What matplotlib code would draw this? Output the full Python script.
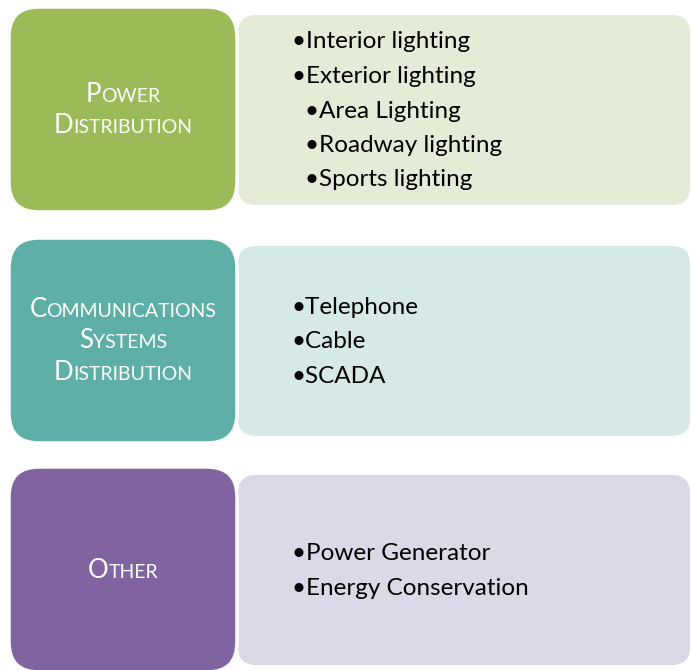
import matplotlib
matplotlib.use("Agg")
import matplotlib.pyplot as plt
from matplotlib.patches import FancyBboxPatch
from matplotlib.offsetbox import TextArea, HPacker, VPacker, AnnotationBbox

# categories (left boxes) as lines of words
titles = [["Power", "Distribution"],
          ["Communications", "Systems", "Distribution"],
          ["Other"]]
# bullet items: (text, indent level)
items = [[("Interior lighting", 0), ("Exterior lighting", 0), ("Area Lighting", 1),
          ("Roadway lighting", 1), ("Sports lighting", 1)],
         [("Telephone", 0), ("Cable", 0), ("SCADA", 0)],
         [("Power Generator", 0), ("Energy Conservation", 0)]]
box_colors = ["#9BBB59", "#5EB0A6", "#8064A2"]
panel_colors = ["#E4ECD8", "#D6E9E7", "#DDD8E7"]

FONT = "Lato"

fig = plt.figure(figsize=(6.91, 6.7), dpi=100)
ax = fig.add_axes([0, 0, 1, 1])
ax.set_xlim(0, 691)
ax.set_ylim(670, 0)
ax.axis("off")

tops = [7, 238, 467]
for i in range(3):
    t = tops[i]
    # light panel on the right
    panel = FancyBboxPatch((238, t + 8), 452, 190, boxstyle="round,pad=0,rounding_size=18",
                           fc=panel_colors[i], ec="none", zorder=1)
    ax.add_patch(panel)
    # coloured box on the left
    box = FancyBboxPatch((9, t), 228, 205, boxstyle="round,pad=0,rounding_size=30",
                         fc=box_colors[i], ec="white", lw=2.5, zorder=2)
    ax.add_patch(box)

    # small caps title
    lines = []
    for word in titles[i]:
        parts = [TextArea(word[0].upper(), textprops=dict(color="white", fontsize=18.5, family=FONT)),
                 TextArea(word[1:].upper(), textprops=dict(color="white", fontsize=14, family=FONT))]
        lines.append(HPacker(children=parts, align="baseline", pad=0, sep=0))
    vp = VPacker(children=lines, align="center", pad=0, sep=5)
    ab = AnnotationBbox(vp, (123, t + 103), frameon=False, box_alignment=(0.5, 0.5), zorder=3)
    ax.add_artist(ab)

    # bullet list
    n = len(items[i])
    y0 = t + 104 - (n - 1) * 34.5 / 2
    for k, (txt, lvl) in enumerate(items[i]):
        ax.text(292 + lvl * 13, y0 + k * 34.5, "\u2022" + txt, fontsize=17.5, family=FONT,
                color="black", va="center", ha="left", zorder=3)

fig.savefig("out.png", dpi=100)
